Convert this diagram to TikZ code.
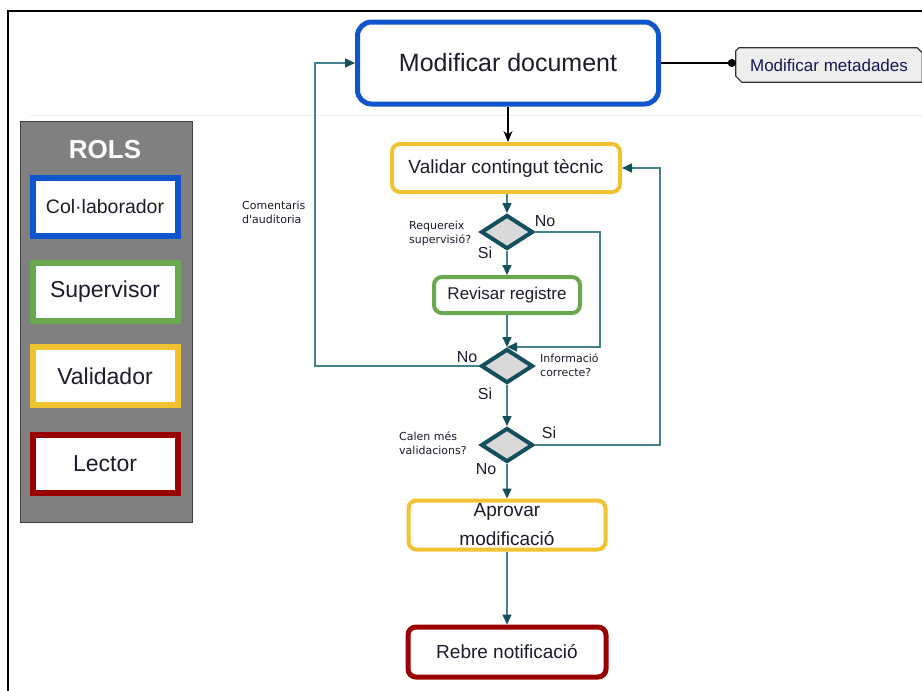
\documentclass[tikz,border=0pt]{standalone}
\usepackage{fontspec}
\setmainfont{Liberation Sans}
\newfontfamily\notefont{DejaVu Sans}
\usetikzlibrary{shapes.geometric,arrows.meta,backgrounds}

\definecolor{blueC}{HTML}{1155CC}
\definecolor{greenC}{HTML}{6AA84F}
\definecolor{yellowC}{HTML}{F1C232}
\definecolor{redC}{HTML}{990000}
\definecolor{tealL}{HTML}{45818E}
\definecolor{tealD}{HTML}{134F5C}
\definecolor{choicefill}{HTML}{D9D9D9}
\definecolor{metafill}{HTML}{EEEEEE}
\definecolor{panelgray}{HTML}{808080}
\definecolor{txt}{HTML}{1C1C2C}

\tikzset{
  stepbox/.style={draw, rounded corners=8pt, line width=4pt, fill=white, inner sep=0pt, text=txt},
  rolebox/.style={draw, line width=6pt, fill=white, minimum width=145pt, minimum height=58pt, inner sep=0pt, text=txt, font=\fontsize{23}{26}\selectfont},
  choice/.style={diamond, draw=tealD, fill=choicefill, line width=4pt, minimum width=52pt, minimum height=34pt, inner sep=0pt},
  flow/.style={draw=tealL, line width=1.6pt, -{Triangle[length=10pt,width=9pt,color=tealD]}},
  answer/.style={font=\fontsize{16}{18}\selectfont, text=txt, inner sep=0pt},
  note/.style={font=\notefont\fontsize{11}{14}\selectfont, align=left, text=txt, inner sep=0pt, anchor=west},
}

\begin{document}
\begin{tikzpicture}[x=1pt,y=-1pt]
		\pgfmathsetmacro\MIDX{507}
		\useasboundingbox (0,0) rectangle (922,691);
		\draw[line width=2pt] (8,691) |- (922,11);
		\draw[black!7, line width=1pt] (30,115) -- (922,115);

		% roles legend
		\node[draw=black!75, fill=panelgray, line width=1.5pt, minimum width=172pt, minimum height=401pt] (panel) at (106.5,322) {};
		\node[text=white, font=\bfseries\fontsize{26}{28}\selectfont] (rols) at (105,150) {ROLS};
		\node[rolebox, draw=blueC, font=\fontsize{19.5}{22}\selectfont] (collab) at (105,207) {Col·laborador};
		\node[rolebox, draw=greenC] (superv) at (105,292) {Supervisor};
		\node[rolebox, draw=yellowC] (valid) at (105,376) {Validador};
		\node[rolebox, draw=redC] (lector) at (105,464) {Lector};

		% flow
		\node[stepbox, draw=blueC, line width=5pt, rounded corners=14pt, minimum width=301pt, minimum height=82pt, font=\fontsize{25}{28}\selectfont] (mod) at (508,63) {Modificar document};
		\node[inner sep=0pt, minimum width=186pt, minimum height=34pt, text=txt!80!blue, font=\fontsize{17}{19}\selectfont] (meta) at (829,65) {Modificar metadades};
		\begin{pgfonlayer}{background}
		\draw[fill=metafill, draw=black!80, line width=1.2pt] ([xshift=3pt]meta.north west) -- ([xshift=-5pt]meta.north east) -- ([yshift=-5pt]meta.north east) -- (meta.south east) -- ([xshift=6pt]meta.south west) -- ([yshift=6pt]meta.south west) -- ([yshift=-3pt]meta.north west) -- cycle;
		\end{pgfonlayer}
		\node[stepbox, draw=yellowC, minimum width=228pt, minimum height=48pt, font=\fontsize{19}{22}\selectfont] (val) at (506,168) {Validar contingut tècnic};
		\node[choice] (d1) at (\MIDX,232) {};
		\node[stepbox, draw=greenC, minimum width=146pt, minimum height=36pt, font=\fontsize{17}{20}\selectfont] (rev) at (\MIDX,295) {Revisar registre};
		\node[choice] (d2) at (\MIDX,366) {};
		\node[choice] (d3) at (\MIDX,445) {};
		\node[stepbox, draw=yellowC, minimum width=197pt, minimum height=49pt, align=center, font=\fontsize{19}{29}\selectfont] (apr) at (\MIDX,525) {Aprovar\\modificació};
		\node[stepbox, draw=redC, line width=5pt, minimum width=198pt, minimum height=50pt, font=\fontsize{19}{22}\selectfont] (reb) at (\MIDX,652) {Rebre notificació};

		\coordinate (c1) at (600,300);
		\coordinate (c2) at (315,200);
		\coordinate (c3) at (660,300);

		\draw[line width=1.5pt, -{Circle[length=8pt]}] (mod.east) -- (mod.east -| meta.west);
		\draw[line width=1.5pt, -{Stealth[length=11pt,width=9pt]}] (mod.south) -- (mod.south |- val.north);
		\draw[flow] (val.south -| d1.north) -- (d1.north);
		\draw[flow] (d1.south) -- (rev.north);
		\draw[flow] (d1.east) -| (c1) |- (d2.north);
		\draw[flow] (rev.south) -- (d2.north);
		\draw[flow] (d2.west) -| (c2) |- (mod.west);
		\draw[flow] (d2.south) -- (d3.north);
		\draw[flow] (d3.east) -| (c3) |- (val.east);
		\draw[flow] (d3.south) -- (apr.north);
		\draw[flow] (apr.south) -- (reb.north);

		% labels
		\node[note] (n1) at (409,233) {Requereix\\supervisió?};
		\node[note] (n2) at (540,365) {Informació\\correcte?};
		\node[note] (n3) at (399,443) {Calen més\\validacions?};
		\node[note] (n4) at (242,212) {Comentaris\\d'auditoria};
		\node[answer] (a1) at (545,221) {No};
		\node[answer] (a2) at (485,253) {Si};
		\node[answer] (a3) at (467,357) {No};
		\node[answer] (a4) at (485,394) {Si};
		\node[answer] (a5) at (549,433) {Si};
		\node[answer] (a6) at (486,469) {No};
		\end{tikzpicture}
\end{document}
